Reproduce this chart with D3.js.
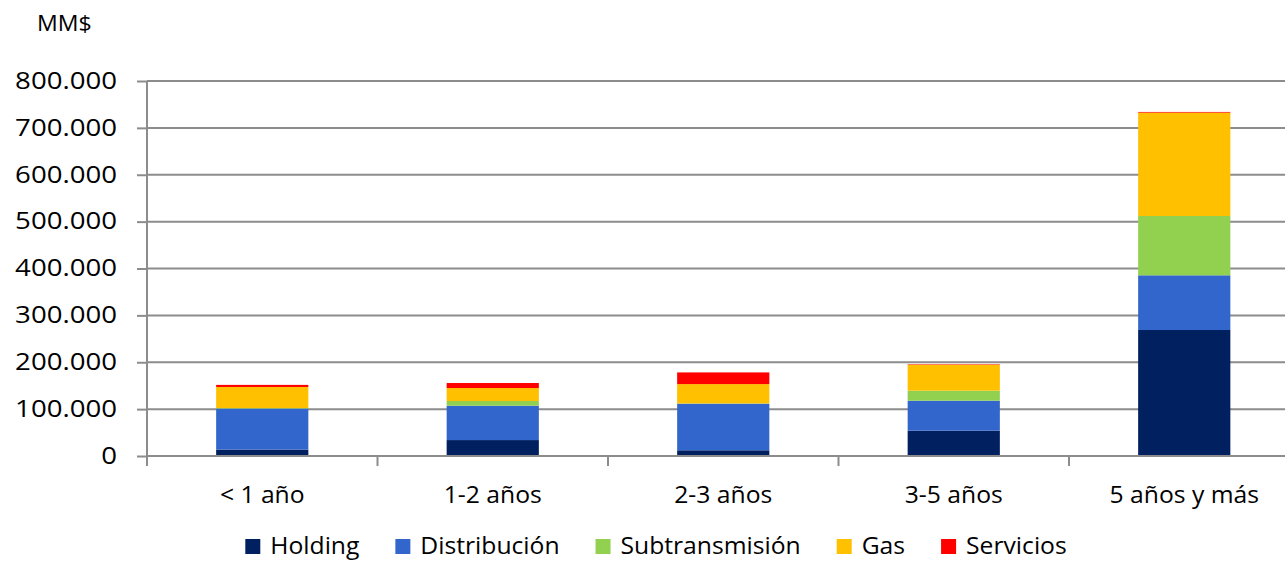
<!DOCTYPE html>
<html>
<head>
<meta charset="utf-8">
<script src="https://cdn.jsdelivr.net/npm/d3@7"></script>
<style>
    body { margin: 0; background: #fff; }
    svg text { font-family: "Open Sans", "Noto Sans", sans-serif; fill: #000; }
</style>
</head>
<body>
<svg width="1285" height="562"></svg>
<script>
// Categories (plazo) and series values (MM$)
const categories = ["< 1 año", "1-2 años", "2-3 años", "3-5 años", "5 años y más"]
const series = ["Holding", "Distribución", "Subtransmisión", "Gas", "Servicios"]
const holding        = [13700, 34000, 12200, 54000, 268800]
const distribucion   = [87500, 73300, 99400, 64000, 116700]
const subtransmision = [1000, 10000, 500, 21300, 126500]
const gas            = [45000, 27700, 41300, 55500, 220500]
const servicios      = [4500, 10700, 24900, 1000, 1500]
const yTicks = [0, 100000, 200000, 300000, 400000, 500000, 600000, 700000, 800000]

const colors = ["#002060", "#3366CC", "#92D050", "#FFC000", "#FF0000"]

const svg = d3.select("svg")
const plotLeft = 147, plotRight = 1299.5, plotTop = 81, plotBottom = 456
const sx = 1.05 // text in the original is a bit stretched sideways

// table for the stack
const table = categories.map((c, i) => ({
    cat: c,
    "Holding": holding[i],
    "Distribución": distribucion[i],
    "Subtransmisión": subtransmision[i],
    "Gas": gas[i],
    "Servicios": servicios[i]
}))

const x = d3.scaleBand().domain(categories).range([plotLeft, plotRight]).padding(0)
const y = d3.scaleLinear().domain([0, 800000]).range([plotBottom, plotTop])
const color = d3.scaleOrdinal().domain(series).range(colors)

const locale = d3.formatLocale({decimal: ",", thousands: ".", grouping: [3], currency: ["$", ""]})
const fmt = locale.format(",.0f")

// gridlines behind the bars
svg.append("g")
    .selectAll("line")
    .data(yTicks.filter(d => d > 0))
    .join("line")
    .attr("x1", plotLeft).attr("x2", 1285)
    .attr("y1", d => y(d)).attr("y2", d => y(d))
    .attr("stroke", "#8c8c8c").attr("stroke-width", 2)

// bars
const stacked = d3.stack().keys(series)(table)
const barW = x.bandwidth() * 0.4
svg.append("g")
    .selectAll("g")
    .data(stacked)
    .join("g")
    .attr("fill", d => color(d.key))
    .selectAll("rect")
    .data(d => d)
    .join("rect")
    .attr("x", d => x(d.data.cat) + (x.bandwidth() - barW) / 2)
    .attr("width", barW)
    .attr("y", d => y(d[1]))
    .attr("height", d => y(d[0]) - y(d[1]))

// y axis
const yAxis = svg.append("g")
    .attr("transform", `translate(${plotLeft},0)`)
    .call(d3.axisLeft(y).tickValues(yTicks).tickFormat(fmt).tickSize(10).tickSizeOuter(0))
yAxis.select(".domain").attr("stroke", "#8c8c8c").attr("stroke-width", 2)
    .attr("d", `M0,${plotTop}V${plotBottom + 10}`)
yAxis.selectAll(".tick line").attr("stroke", "#8c8c8c").attr("stroke-width", 2)
yAxis.selectAll(".tick text")
    .attr("x", 0)
    .attr("transform", "translate(-30,0) scale(1.2,1)")
    .attr("font-size", 23)
    .attr("font-family", null)
    .attr("fill", "#000")

// x axis: ticks at the category boundaries
const xAxis = svg.append("g")
    .attr("transform", `translate(0,${plotBottom})`)
xAxis.append("line")
    .attr("x1", plotLeft).attr("x2", 1285)
    .attr("stroke", "#8c8c8c").attr("stroke-width", 2)
xAxis.selectAll(".sep")
    .data(categories.slice(1))
    .join("line")
    .attr("class", "sep")
    .attr("x1", d => x(d)).attr("x2", d => x(d))
    .attr("y1", 0).attr("y2", 10)
    .attr("stroke", "#8c8c8c").attr("stroke-width", 2)
xAxis.selectAll("text")
    .data(categories)
    .join("text")
    .attr("text-anchor", "middle")
    .attr("transform", d => `translate(${x(d) + x.bandwidth() / 2},47) scale(${sx},1)`)
    .attr("font-size", 23.5)
    .text(d => d)

// unit label
svg.append("text")
    .attr("transform", `translate(37,31) scale(${sx},1)`)
    .attr("font-size", 22)
    .text("MM$")

// legend
const legend = svg.append("g")
const items = legend.selectAll("g")
    .data(series)
    .join("g")
items.append("rect")
    .attr("width", 15).attr("height", 15)
    .attr("y", -15)
    .attr("fill", d => color(d))
items.append("text")
    .attr("transform", `translate(25,0) scale(${sx},1)`)
    .attr("font-size", 23.5)
    .text(d => d)

let pos = 0
items.each(function () {
    const g = d3.select(this)
    g.attr("transform", `translate(${pos},0)`)
    const w = g.select("text").node().getComputedTextLength() * sx
    pos += 25 + w + 36
})
const total = pos - 36
legend.attr("transform", `translate(${656 - total / 2},554)`)
</script>
</body>
</html>
